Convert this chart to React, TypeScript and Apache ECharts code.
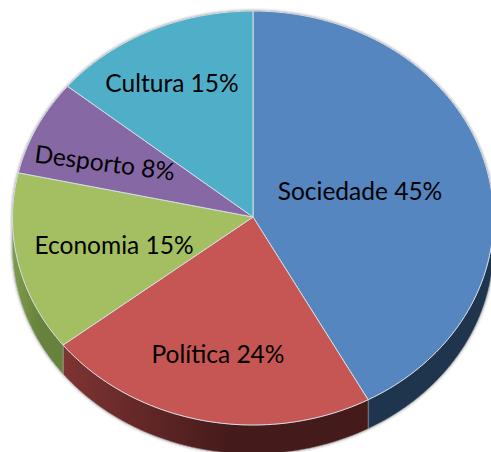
import React, { useEffect, useRef } from "react";
import * as echarts from "echarts";

const categories = ["Sociedade", "Política", "Economia", "Desporto", "Cultura"];
const percentages = [45, 24, 15, 8, 15];

const topColors = ["#5586C0", "#C65653", "#A3BF62", "#8668A5", "#50AFC8"];
const wallStops = [
  ["#1F344D", "#1F344D"],
  ["#7E3433", "#451A1A"],
  ["#7E9C4B", "#66823C"],
  ["#4F3D63", "#4F3D63"],
  ["#2F6878", "#2F6878"],
];
const labelLayout = [
  { x: 360, y: 190, rot: 0 },
  { x: 218, y: 353, rot: 0 },
  { x: 114, y: 244, rot: 0 },
  { x: 105, y: 162, rot: -0.13 },
  { x: 172, y: 82, rot: 0 },
];

const CX = 253;
const CY = 218;
const HUB_Y = 217;
const RX = 240.5;
const RY = 207;
const DEPTH = 29;
const total = percentages.reduce((a, b) => a + b, 0);

const ell = (deg: number, dy = 0) => {
  const t = (deg * Math.PI) / 180;
  return [CX + RX * Math.sin(t), CY + dy - RY * Math.cos(t)];
};
const arc = (a: number, b: number, dy = 0) => {
  const n = Math.max(2, Math.ceil(Math.abs(b - a) / 1.5));
  const pts: number[][] = [];
  for (let i = 0; i <= n; i++) pts.push(ell(a + ((b - a) * i) / n, dy));
  return pts;
};

export default function App() {
  const ref = useRef<HTMLDivElement>(null);
  useEffect(() => {
    const chart = echarts.init(ref.current!, undefined, { renderer: "svg" });
    const starts: number[] = [];
    let acc = 0;
    percentages.forEach((v) => {
      starts.push(acc);
      acc += (v / total) * 360;
    });
    chart.setOption({
      animation: false,
      backgroundColor: "#ffffff",
      series: [
        {
          type: "custom",
          coordinateSystem: "none",
          silent: true,
          data: [0],
          renderItem: () => ({
            type: "polygon",
            shape: { points: [...arc(0, 90), ...arc(90, 270, DEPTH), ...arc(270, 360)] },
            style: {
              fill: "#9a9a9a",
              stroke: "#a8a8a8",
              lineWidth: 1,
              shadowBlur: 3,
              shadowColor: "rgba(0,0,0,0.45)",
            },
          }),
        },
        {
          type: "custom",
          coordinateSystem: "none",
          silent: true,
          data: percentages.map((v, i) => ({ value: [i, v], name: categories[i] })),
          renderItem: (_p: any, api: any) => {
            const i = api.value(0);
            const a0 = starts[i];
            const a1 = a0 + (api.value(1) / total) * 360;
            const children: any[] = [];
            const w0 = Math.max(a0, 90);
            const w1 = Math.min(a1, 270);
            if (w1 > w0) {
              const top = arc(w0, w1);
              const bot = arc(w0, w1, DEPTH).reverse();
              const [c0, c1] = wallStops[i];
              children.push({
                type: "polygon",
                shape: { points: [...top, ...bot] },
                style: {
                  fill: {
                    type: "linear",
                    x: 0,
                    y: 0,
                    x2: 1,
                    y2: 0,
                    colorStops: [
                      { offset: 0, color: c0 },
                      { offset: 0.55, color: c1 },
                      { offset: 1, color: c1 },
                    ],
                  },
                  stroke: "rgba(200,200,200,0.55)",
                  lineWidth: 0.7,
                },
              });
            }
            children.push({
              type: "polygon",
              shape: { points: [[CX, HUB_Y], ...arc(a0, a1)] },
              style: { fill: topColors[i], stroke: "#D5DCE4", lineWidth: 1, lineJoin: "round" },
            });
            return { type: "group", children };
          },
        },
        {
          type: "custom",
          coordinateSystem: "none",
          silent: true,
          data: percentages.map((v, i) => ({ value: [i, v], name: categories[i] })),
          renderItem: (_p: any, api: any) => {
            const i = api.value(0);
            const l = labelLayout[i];
            return {
              type: "text",
              x: l.x,
              y: l.y,
              rotation: l.rot,
              style: {
                text: `${categories[i]} ${api.value(1)}%`,
                fill: "#000000",
                font: '24.5px Lato, "Open Sans", sans-serif',
                align: "center",
                verticalAlign: "middle",
              },
            };
          },
        },
      ],
    });
    return () => chart.dispose();
  }, []);
  return (
    <div
      ref={ref}
      style={{ position: "fixed", left: 0, top: 0, width: 491, height: 452 }}
    />
  );
}
